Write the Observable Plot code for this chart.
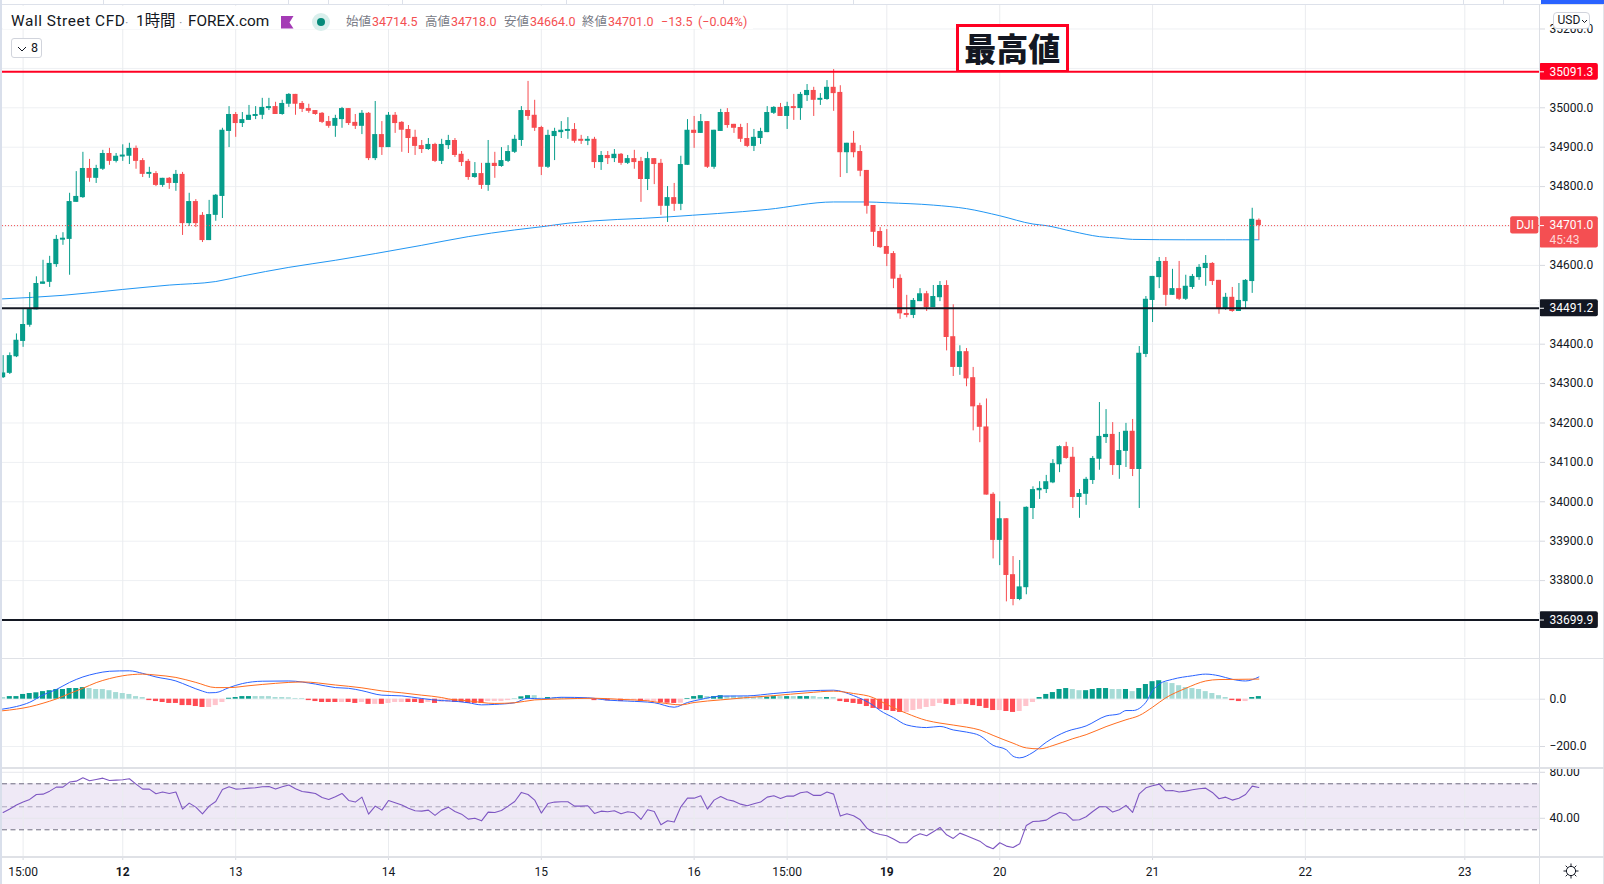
<!DOCTYPE html>
<html lang="ja">
<head>
<meta charset="utf-8">
<script src="https://cdn.jsdelivr.net/npm/d3@7"></script>
<script src="https://cdn.jsdelivr.net/npm/@observablehq/plot@0.6"></script>
<style>
html,body{margin:0;padding:0;background:#fff;overflow:hidden}
#root{position:relative;width:1604px;height:884px;overflow:hidden;background:#fff;font-family:Roboto,'Noto Sans CJK JP',sans-serif;color:#131722}
#root>svg{position:absolute;left:0}
.abs{position:absolute;white-space:nowrap}
</style>
</head>
<body>
<div id="root"></div>
<script>
const opens=[34315,34326,34368,34407,34448,34487,34552,34557,34602,34664,
34666,34760,34772,34846,34821,34844,34884,34864,34875,34877,
34897,34866,34831,34833,34803,34821,34808,34831,34706,34762,
34727,34663,34727,34775,34940,34983,34960,34968,34978,34981,
34998,35003,34983,35009,35034,35011,34998,34993,34986,34965,
34953,34970,34998,34963,34953,34986,34871,34932,34899,34981,
34963,34945,34925,34904,34894,34907,34864,34904,34917,34882,
34864,34823,34833,34803,34859,34851,34864,34887,34917,34993,
34981,34950,34849,34927,34937,34940,34945,34917,34915,34920,
34861,34879,34871,34882,34859,34871,34864,34818,34871,34859,
34750,34772,34755,34854,34943,34935,34965,34849,34940,34988,
34958,34950,34922,34902,34922,34937,34986,35001,34978,35003,
34998,35031,35044,35019,35021,35052,35039,34886,34910,34889,
34841,34752,34686,34648,34630,34567,34478,34473,34508,34528,
34493,34518,34549,34419,34341,34381,34315,34244,34190,34019,
33902,33957,33815,33752,33782,33983,34028,34031,34048,34094,
34140,34113,34011,34019,34054,34108,34163,34171,34092,34128,
34179,34082,34374,34511,34569,34610,34524,34541,34514,34544,
34569,34592,34605,34562,34488,34519,34483,34508,34559,34714.5];
const highs=[34371,34378,34426,34488,34531,34571,34613,34623,34676,34683,
34783,34838,34887,34869,34854,34892,34897,34884,34906,34910,
34903,34871,34849,34838,34821,34823,34841,34836,34783,34767,
34734,34765,34780,34948,35003,34988,34988,35006,35003,35024,
35024,35014,35019,35036,35034,35016,35009,34993,34988,34978,
34981,35001,34998,34983,34993,34988,35016,34965,34988,34988,
34965,34955,34943,34917,34922,34910,34920,34930,34922,34889,
34869,34861,34859,34917,34887,34899,34904,34930,35003,35067,
35019,34953,34943,34948,34965,34975,34960,34930,34927,34925,
34889,34889,34894,34884,34879,34892,34874,34887,34871,34869,
34800,34808,34877,34970,34978,34983,34965,34943,34996,34998,
34958,34958,34960,34945,34948,35003,35003,35011,35014,35034,
35039,35059,35052,35036,35069,35097,35056,34910,34940,34904,
34841,34752,34696,34691,34635,34576,34524,34516,34541,34534,
34549,34559,34561,34500,34396,34389,34341,34250,34261,34023,
34000,33957,33861,33851,33987,34038,34051,34067,34107,34142,
34151,34138,34031,34062,34115,34252,34234,34201,34176,34199,
34209,34394,34521,34572,34620,34620,34590,34610,34575,34577,
34602,34625,34607,34562,34529,34544,34554,34564,34745,34718];
const lows=[34313,34323,34366,34392,34443,34487,34552,34544,34595,34651,
34575,34760,34770,34811,34808,34841,34854,34860,34864,34856,
34844,34823,34821,34800,34798,34793,34788,34676,34699,34696,
34658,34663,34712,34719,34899,34925,34950,34968,34970,34970,
34993,34983,34981,35001,34981,34988,34986,34981,34960,34948,
34925,34948,34955,34945,34932,34866,34866,34879,34899,34935,
34887,34884,34879,34884,34892,34861,34856,34894,34874,34851,
34816,34821,34793,34788,34821,34849,34861,34884,34902,34968,
34940,34828,34846,34866,34922,34920,34910,34907,34904,34846,
34841,34856,34861,34854,34856,34844,34760,34790,34805,34727,
34709,34737,34739,34854,34897,34935,34846,34844,34940,34948,
34935,34912,34899,34889,34907,34937,34983,34978,34945,34968,
34968,35016,34978,35006,35019,34991,34823,34833,34873,34825,
34730,34648,34643,34597,34541,34463,34467,34465,34508,34483,
34493,34508,34383,34318,34321,34292,34180,34150,34017,33855,
33838,33746,33736,33749,33764,33955,34006,34021,34046,34074,
34108,33983,33958,33991,34044,34080,34148,34067,34057,34087,
34064,33983,34366,34455,34541,34496,34524,34511,34511,34539,
34562,34547,34549,34476,34486,34481,34483,34488,34529,34664];
const closes=[34327,34371,34410,34450,34488,34554,34558,34605,34666,34668,
34762,34775,34846,34821,34846,34884,34864,34877,34879,34897,
34864,34831,34833,34803,34821,34808,34831,34706,34762,34706,
34663,34729,34778,34943,34983,34960,34970,34981,34983,35001,
35003,34983,35011,35034,35009,34996,34991,34983,34963,34953,
34973,34998,34960,34953,34986,34871,34932,34899,34981,34960,
34943,34922,34902,34894,34907,34864,34907,34917,34879,34861,
34823,34833,34803,34859,34851,34866,34889,34920,34993,34978,
34948,34849,34930,34940,34943,34945,34915,34915,34920,34861,
34879,34871,34882,34859,34871,34861,34818,34871,34856,34750,
34772,34755,34856,34943,34935,34965,34849,34943,34988,34955,
34948,34920,34902,34925,34940,34988,35001,34978,35003,34998,
35034,35044,35019,35024,35052,35036,34886,34910,34886,34839,
34750,34684,34645,34628,34565,34477,34473,34511,34528,34493,
34521,34549,34417,34341,34381,34312,34241,34189,34017,33902,
33957,33813,33752,33784,33986,34031,34034,34051,34097,34140,
34110,34011,34021,34057,34110,34166,34171,34092,34130,34179,
34082,34377,34514,34572,34610,34524,34541,34514,34547,34572,
34595,34605,34559,34488,34519,34483,34511,34562,34717,34701];

const emaBars=[-0.1,9,18,25,32,36,43,50,56,63,70,77,81,85,100,115,125,130,133,140,145,150,155,157,161,165,168,170,178,184,189];
const emaVals=[34515,34524,34539,34550,34559,34573,34595,34613,34630,34651,34673,34690,34698,34707,34723,34742,34761,34761,34759,34753,34744,34726,34705,34701,34686,34673,34669,34666,34665,34665,34665];

const levels=[35091.3,34491.2,33699.9];
const levelColors=["#ff0022","#131722","#131722"];
const lastPrice=34701.0;
const lastColor="#f44f52";
const countdown="45:43";
const symbolTag="DJI";

const priceGrid=[33700,33800,33900,34000,34100,34200,34300,34400,34500,34600,34700,34800,34900,35000,35100,35200];
const priceTicks=[33800,33900,34000,34100,34200,34300,34400,34600,34800,34900,35000,35200];
const timeTicks=[3,18,35,58,81,104,118,133,150,173,196,220];
const timeLabels=["15:00","12","13","14","15","16","15:00","19","20","21","22","23"];
const boldTimeLabels=["12","19"];

const macdHist=[7,11,11,20,24,27,32,36,41,41,
45,45,49,45,41,41,36,28,24,20,
11,7,-6,-10,-14,-18,-18,-27,-27,-31,
-35,-35,-27,-14,4,7,11,11,11,11,
11,7,7,6,3,3,-6,-10,-14,-14,
-14,-14,-14,-18,-14,-22,-22,-22,-18,-14,
-14,-14,-14,-18,-14,-18,-13,-14,-14,-14,
-18,-18,-18,-10,-10,-10,-6,1,10,15,
15,4,7,6,7,6,4,3,1,-6,
-3,-7,-3,-10,-7,-6,-10,-10,-10,-14,
-17,-18,-17,3,11,15,11,11,15,13,
13,10,10,8,8,8,11,11,11,11,
11,11,11,7,7,7,-10,-14,-18,-22,
-31,-39,-43,-48,-52,-56,-56,-48,-43,-35,
-31,-18,-22,-27,-22,-22,-27,-31,-39,-48,
-48,-52,-56,-52,-31,-14,7,20,28,41,
45,41,36,36,41,45,45,41,41,41,
32,45,62,74,78,70,66,57,49,45,
41,32,24,15,7,-6,-10,-10,7,11];
const histShades=("gGGGGGGGGGGGGgggggggggRRRRRRRRRrrrGGGGggggggggRRRRRrRRrRrRrrrRRRrRrrRRRRRrrrrGGGggGggggggRrRrRrrRrrRRRrGGGgGGggggggGGgGgGGggGgRRRRRRRRRRrrrrrrRRrRRRRRrRRrrrGGGGGggGGGGggGgGGGGggggggggggRRrGG").split("");
const shadeColors={G:"#069d8b",g:"#a6dbd6",R:"#ff4a52",r:"#ffc4cc"};

const macdBars=[-0.1,2,4,6,8,10,12,14,16,19,21,23,26,28,30,31,32,34,36,39,43,47,50,52,54,57,60,63,66,67,70,72,74,77,79,81,84,88,91,94,98,101,103,105,108,112,116,121,125,128,131,132,134,136,139,141,143,145,147,149,151,152,153,155,157,160,163,166,168,169,170,172,173,174,176,179,181,183,185,187,189];
const macdVals=[-42,-31,-13,18,41,71,94,109,118,120,109,94,77,55,34,27,28,49,66,76,77,64,49,46,36,17,14,3,-6,-7,-15,-24,-22,-15,4,1,8,6,-4,-8,-15,-34,-14,-1,13,14,24,35,38,15,-27,-48,-78,-109,-120,-115,-130,-139,-154,-195,-214,-241,-248,-225,-182,-137,-113,-71,-62,-48,-48,-13,36,64,84,99,106,99,84,77,94];
const signalBars=[-0.1,2,4,6,8,10,12,14,16,18,21,23,26,29,32,34,37,41,45,50,54,57,60,63,66,67,70,74,77,80,84,89,93,97,99,102,104,108,112,116,121,125,128,131,132,134,136,139,141,145,147,149,152,154,156,158,161,163,166,169,171,173,175,178,181,183,186,189];
const signalVals=[-49,-42,-32,-17,1,24,46,70,87,99,106,102,92,71,49,49,57,67,73,60,48,35,27,17,7,1,-7,-18,-15,-3,1,4,-1,-7,-15,-24,-14,-3,7,15,27,34,24,6,-8,-36,-60,-90,-101,-118,-130,-153,-186,-206,-210,-196,-167,-150,-116,-87,-69,-34,6,46,77,83,84,85];
const macdGrid=[0,-200];

const rsi=[45.1,48.0,51.5,54.1,56.4,60.7,61.0,63.6,67.1,67.1,
71.5,72.3,75.2,72.6,73.8,74.9,72.9,73.2,73.5,74.4,
69.7,65.4,65.4,61.3,62.8,61.6,62.8,48.0,53.2,49.7,
43.9,50.6,54.6,65.1,67.4,65.4,65.7,66.2,66.5,67.4,
67.7,65.4,67.4,68.9,65.7,63.3,62.5,61.6,58.1,56.4,
58.7,61.6,55.5,54.1,58.4,43.6,50.6,47.1,55.5,53.5,
51.5,48.8,46.5,46.2,47.1,42.5,47.1,49.7,45.9,43.6,
39.3,40.1,37.8,45.4,45.1,46.8,50.6,54.6,62.5,60.7,
55.8,44.5,52.9,54.1,54.4,54.4,50.6,50.6,50.9,44.2,
46.2,45.7,46.5,43.9,45.7,44.8,39.0,47.4,45.9,34.3,
37.8,36.7,50.0,57.5,57.5,59.6,48.0,55.8,59.0,56.1,
54.9,52.3,50.9,52.6,54.1,58.4,59.6,57.3,59.3,59.3,
62.2,63.1,59.9,59.9,62.8,61.0,41.9,43.9,42.2,38.7,
31.4,27.7,25.9,24.8,21.9,18.7,18.7,23.9,26.5,24.8,
28.3,32.0,25.6,22.5,27.1,24.8,22.5,20.1,15.8,13.5,
18.7,15.8,14.6,17.8,33.8,37.2,37.5,38.4,42.2,45.1,
43.9,38.4,38.7,41.3,45.9,50.0,50.0,45.4,47.4,51.2,
45.1,61.3,66.5,68.3,69.7,63.9,64.2,62.8,63.6,64.8,
65.7,66.2,62.5,57.0,58.4,55.8,57.5,60.7,68.0,66.8];
const rsiBand=[30,70];
const rsiMid=50;
const rsiGrid=[80,40];

const chromeTicks=[102.7,288,327.7,401.7,565.7,723.3,853,1463,1502.7];

/* shared layout */
const FONT="Roboto,'Noto Sans CJK JP',sans-serif";
const xDomain=[-0.1,231.24], xEnd=240.1, dTagX=226.9, halfBody=0.38;
const TXT="#131722", GRID="#eef0f3", VGRID="#eaecef", TICK="#d6d8df";
const plotBase=h=>({width:1604,height:h,marginLeft:2,marginRight:65,marginTop:0,marginBottom:0,
  x:{domain:xDomain,axis:null},
  style:{background:"transparent",fontFamily:FONT,fontSize:"12px",color:TXT}});
const bars=opens.map((o,i)=>({i,o,h:highs[i],l:lows[i],c:closes[i],up:closes[i]>=o}));
const UP="#069d8b", DOWN="#f64c50";
const vGrid=()=>Plot.ruleX(timeTicks,{stroke:VGRID,strokeWidth:1});
const axisR=(ticks,fmt)=>Plot.axisY(ticks,{anchor:"right",tickSize:5,tickPadding:5,tickFormat:fmt,stroke:TICK,fill:TXT,fontSize:12,label:null});
const series=(xs,ys)=>xs.map((x,k)=>({x,y:ys[k]}));

const pxPerPrice=0.394, halfTag=8.4/pxPerPrice;
const levelData=levels.map((v,k)=>({v,col:levelColors[k]}));
const priceChart=Plot.plot({...plotBase(654),
  y:{domain:[33604.8,35264.7]},
  marks:[
    Plot.ruleY(priceGrid,{stroke:GRID,strokeWidth:1}),
    vGrid(),
    axisR(priceTicks,d=>d.toFixed(1)),
    Plot.line(series(emaBars,emaVals),{x:"x",y:"y",stroke:"#2196f3",strokeWidth:1,curve:"monotone-x",clip:true}),
    Plot.ruleX(bars,{x:"i",y1:"l",y2:"h",stroke:d=>d.up?UP:DOWN,strokeWidth:1,clip:true}),
    Plot.rect(bars,{x1:d=>d.i-halfBody,x2:d=>d.i+halfBody,
      y1:d=>Math.min(d.o,d.c),y2:d=>Math.max(d.o,d.c)+(Math.abs(d.o-d.c)<5?5-Math.abs(d.o-d.c):0),
      fill:d=>d.up?UP:DOWN,clip:true}),
    Plot.ruleY([lastPrice],{x1:xDomain[0],x2:xDomain[1],stroke:lastColor,strokeWidth:1,strokeDasharray:"1,2"}),
    Plot.ruleY(levelData,{y:"v",x1:xDomain[0],x2:xDomain[1],stroke:"col",strokeWidth:2}),
    /* price tags on the scale */
    Plot.rect(levelData,{x1:xDomain[1],x2:xEnd,y1:d=>d.v-halfTag,y2:d=>d.v+halfTag,fill:"col",rx:2}),
    Plot.rect([lastPrice],{x1:xDomain[1],x2:xEnd,y1:d=>d-57,y2:d=>d+22.3,fill:lastColor,rx:2}),
    Plot.rect([lastPrice],{x1:dTagX,x2:xDomain[1]-0.1,y1:d=>d-21.5,y2:d=>d+22.3,fill:lastColor,rx:2}),
    Plot.ruleY(levels.concat(lastPrice),{x1:xDomain[1],x2:xDomain[1]+0.75,stroke:"#fff",strokeWidth:1}),
    Plot.text(levels.concat(lastPrice),{x:xDomain[1],y:d=>d,dx:10,text:d=>d.toFixed(1),textAnchor:"start",fill:"#fff",fontSize:12}),
    Plot.text([lastPrice],{x:xDomain[1],y:d=>d,dx:10,dy:15,text:()=>countdown,textAnchor:"start",fill:"#ffd5d6",fontSize:12}),
    Plot.text([lastPrice],{x:(dTagX+xDomain[1])/2,y:d=>d,text:()=>symbolTag,fill:"#fff",fontSize:12})
  ]});

const macdChart=Plot.plot({...plotBase(110),
  y:{domain:[-293,172]},
  marks:[
    Plot.ruleY(macdGrid,{stroke:GRID,strokeWidth:1}),
    vGrid(),
    axisR(macdGrid,d=>d===0?"0.0":"\u2212"+Math.abs(d).toFixed(1)),
    Plot.rect(macdHist.map((v,i)=>({i,v,s:histShades[i]})),{
      x1:d=>d.i-halfBody,x2:d=>d.i+halfBody,y1:()=>0,y2:"v",fill:d=>shadeColors[d.s],clip:true}),
    Plot.line(series(macdBars,macdVals),{x:"x",y:"y",stroke:"#2962ff",strokeWidth:1,curve:"monotone-x",clip:true}),
    Plot.line(series(signalBars,signalVals),{x:"x",y:"y",stroke:"#ff6d1f",strokeWidth:1,curve:"monotone-x",clip:true})
  ]});

const rsiChart=Plot.plot({...plotBase(89),
  y:{domain:[5.9,83.3]},
  marks:[
    Plot.rect([rsiBand],{x1:xDomain[0],x2:xDomain[1],y1:d=>d[0],y2:d=>d[1],fill:"#7b4cb5",fillOpacity:0.12}),
    Plot.ruleY(rsiGrid,{stroke:"#e6e7ec",strokeWidth:1}),
    vGrid(),
    axisR(rsiGrid,d=>d.toFixed(2)),
    Plot.ruleY(rsiBand,{x1:xDomain[0],x2:xDomain[1],stroke:"#6f6c80",strokeWidth:1,strokeDasharray:"5,3.5"}),
    Plot.ruleY([rsiMid],{x1:xDomain[0],x2:xDomain[1],stroke:"#aba6bb",strokeWidth:1,strokeDasharray:"5,3.5"}),
    Plot.line(rsi.map((v,i)=>({i,v})),{x:"i",y:"v",stroke:"#7e57c2",strokeWidth:1.1,clip:true})
  ]});

const timeOf=t=>timeLabels[timeTicks.indexOf(t)];
const isBold=t=>boldTimeLabels.includes(timeOf(t));
const timeChart=Plot.plot({...plotBase(27),marginBottom:27,
  marks:[
    Plot.axisX(timeTicks.filter(t=>!isBold(t)),{anchor:"bottom",tickSize:3,tickPadding:7,tickFormat:timeOf,stroke:TICK,fill:TXT,fontSize:12,label:null}),
    Plot.axisX(timeTicks.filter(isBold),{anchor:"bottom",tickSize:3,tickPadding:7,tickFormat:timeOf,stroke:TICK,fill:TXT,fontSize:12,fontWeight:"bold",label:null})
  ]});

const root=document.getElementById("root");
[[priceChart,3],[macdChart,658],[rsiChart,768],[timeChart,857]].forEach(([c,t])=>{c.style.top=t+"px";c.style.position="absolute";c.style.left="0";root.appendChild(c);});

/* page chrome and labels */
const add=(css,html,cls)=>{const d=document.createElement("div");d.className="abs "+(cls||"");d.style.cssText+=";"+css;if(html)d.innerHTML=html;root.appendChild(d);return d;};
const box=(l,t,w,h,bg)=>add(`left:${l}px;top:${t}px;width:${w}px;height:${h}px;background:${bg}`);
box(0,0,2,884,"#d9dfeb");
box(1603,0,1,884,"#e3e5ea");
box(2,0,1602,4,"#fff");
box(2,4,1602,1,"#dde1ea");
chromeTicks.forEach(x=>box(x,0,1,4,"#dde1ea"));
box(1540.5,0,64,3.5,"#2962ff");
box(1539,4,1,880,"#dcdfe5");
box(2,658,1602,1.4,"#dfe1e6");
box(2,767.4,1602,1.4,"#dfe1e6");
box(2,856.2,1602,1.4,"#dfe1e6");

/* legend */
box(3,6,750,23,"rgba(255,255,255,.92)");
const T=(x,txt,size,col,extra)=>add(`left:${x}px;top:22px;transform:translateY(-50%);font-size:${size}px;color:${col};line-height:1;${extra||""}`,txt);
T(11,"Wall Street CFD",15.4,"#131722","letter-spacing:.55px");
T(125,"\u00b7",13,"#9598a1");
T(136,"1時間",15.4,"#131722");
T(179,"\u00b7",13,"#9598a1");
T(188,"FOREX.com",15.4,"#131722");
add("left:281px;top:16px","<svg width='13' height='13' style='display:block'><path d='M0 0H12.5L8.5 6.5L12.5 12.5H0Z' fill='#a43bb5'/></svg>");
add("left:312px;top:13px","<svg width='18' height='18' style='display:block'><circle cx='9' cy='9' r='9' fill='#d9efec'/><circle cx='9' cy='9' r='4' fill='#058a79'/></svg>");
const legendRows=[[346,"始値",372,"34714.5"],[425,"高値",451,"34718.0"],[504,"安値",530,"34664.0"],[582,"終値",608,"34701.0"]];
legendRows.forEach(r=>{T(r[0],r[1],12.5,"#787b86");T(r[2],r[3],12.5,"#f44f52");});
T(661,"\u221213.5",12.5,"#f44f52");
T(698,"(\u22120.04%)",12.5,"#f44f52");

add("left:11px;top:37.5px;width:31px;height:20px;box-sizing:border-box;border:1px solid #d1d4dc;border-radius:3px;background:#fff;font-size:12.5px;line-height:18px;color:#131722",
 "<svg width='10' height='6' style='position:absolute;left:5px;top:7px'><path d='M1 1L5 5L9 1' fill='none' stroke='#131722'/></svg><span style='position:absolute;left:19px;top:0'>8</span>");
add("left:1552.5px;top:11.5px;width:37px;height:17px;box-sizing:border-box;border:1px solid #d1d4dc;border-radius:4px;background:#fff;font-size:12px;line-height:15px;color:#131722",
 "<span style='position:absolute;left:4px;top:0'>USD</span><svg width='7' height='5' style='position:absolute;left:27px;top:6px'><path d='M1 1L3.5 3.5L6 1' fill='none' stroke='#131722'/></svg>");

/* annotation */
add("left:956px;top:24px;width:112.5px;height:48px;box-sizing:border-box;border:3px solid #ff0022;border-bottom-width:2px;background:#fff;text-align:center;font-family:'Noto Sans CJK JP',sans-serif;font-weight:900;font-size:32px;line-height:41px;color:#131722","最高値");

/* settings icon */
add("left:1563px;top:863px","<svg width='16' height='16' style='display:block' fill='none' stroke='#131722'><circle cx='8' cy='8' r='4.6'/><path d='M8 0.5V3.4M8 12.6V15.5M0.5 8H3.4M12.6 8H15.5M2.7 2.7L4.7 4.7M11.3 11.3L13.3 13.3M13.3 2.7L11.3 4.7M4.7 11.3L2.7 13.3'/></svg>");
</script>
</body>
</html>
